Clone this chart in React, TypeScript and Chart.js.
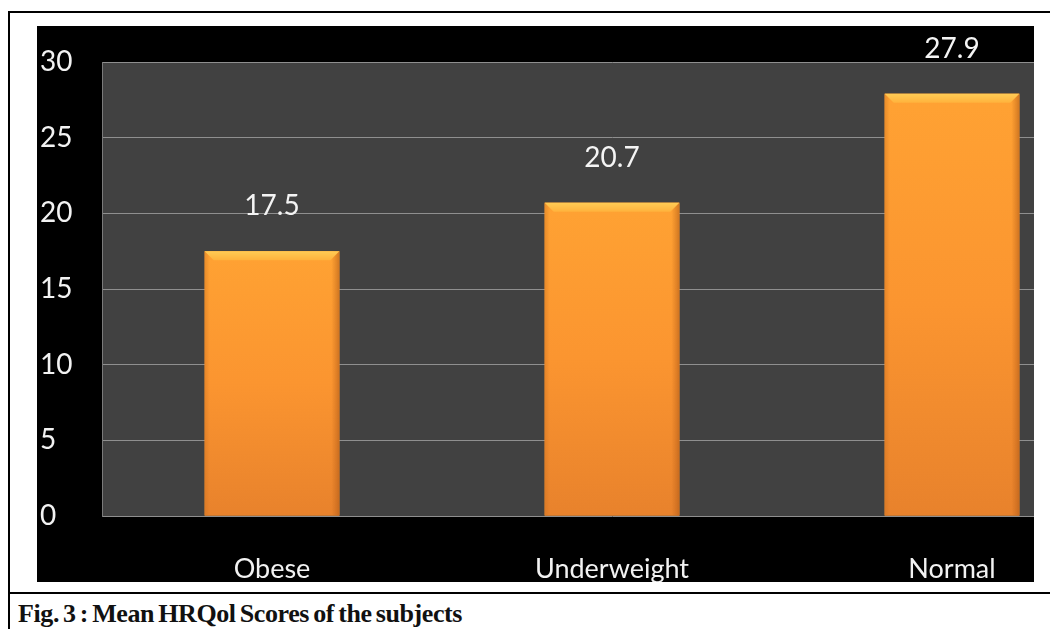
import React, { useEffect, useRef } from "react";
import { Chart, registerables } from "chart.js";

Chart.register(...registerables);

const categories = ["Obese", "Underweight", "Normal"];
const scores = [17.5, 20.7, 27.9];
const scoreLabels = ["17.5", "20.7", "27.9"];
const yTicks = [0, 5, 10, 15, 20, 25, 30];
const caption = "Fig. 3 : Mean HRQol Scores of the subjects";

const FONT = "Lato, 'Open Sans', sans-serif";

const plotBg = {
  id: "plotBg",
  beforeDraw(chart: any) {
    const { ctx, chartArea } = chart;
    ctx.save();
    ctx.fillStyle = "#000";
    ctx.fillRect(0, 0, chart.width, chart.height);
    ctx.fillStyle = "#414141";
    ctx.fillRect(chartArea.left, chartArea.top, chartArea.right - chartArea.left, chartArea.bottom - chartArea.top);
    ctx.restore();
  },
};

const bevel = {
  id: "bevel",
  afterDatasetsDraw(chart: any) {
    const { ctx } = chart;
    const meta = chart.getDatasetMeta(0);
    ctx.save();
    meta.data.forEach((bar: any, i: number) => {
      const w = bar.width;
      const l = bar.x - w / 2;
      const r = bar.x + w / 2;
      const t = bar.y;
      const b = bar.base;
      const g = ctx.createLinearGradient(0, t, 0, b);
      g.addColorStop(0, "#ffa233");
      g.addColorStop(0.5, "#fb9530");
      g.addColorStop(1, "#e8822c");
      ctx.fillStyle = g;
      ctx.fillRect(l, t, w, b - t);
      const gr = ctx.createLinearGradient(r - 8, 0, r, 0);
      gr.addColorStop(0, "rgba(180,90,20,0)");
      gr.addColorStop(1, "rgba(170,85,20,0.55)");
      ctx.fillStyle = gr;
      ctx.fillRect(r - 8, t, 8, b - t);
      const gl = ctx.createLinearGradient(l, 0, l + 5, 0);
      gl.addColorStop(0, "rgba(200,110,30,0.4)");
      gl.addColorStop(1, "rgba(200,110,30,0)");
      ctx.fillStyle = gl;
      ctx.fillRect(l, t, 5, b - t);
      const bh = 9;
      const gt = ctx.createLinearGradient(0, t, 0, t + bh);
      gt.addColorStop(0, "#ffcc55");
      gt.addColorStop(1, "#ffb23c");
      ctx.fillStyle = gt;
      ctx.beginPath();
      ctx.moveTo(l, t);
      ctx.lineTo(r, t);
      ctx.lineTo(r - bh, t + bh);
      ctx.lineTo(l + bh, t + bh);
      ctx.closePath();
      ctx.fill();
      ctx.fillStyle = "#f4f4f4";
      ctx.font = `28px ${FONT}`;
      ctx.textAlign = "center";
      ctx.textBaseline = "middle";
      ctx.fillText(scoreLabels[i], bar.x, t - 45);
    });
    ctx.restore();
  },
};

function BarChart() {
  const ref = useRef<HTMLCanvasElement>(null);
  useEffect(() => {
    const chart = new Chart(ref.current as HTMLCanvasElement, {
      type: "bar",
      data: {
        labels: categories,
        datasets: [
          {
            data: scores,
            backgroundColor: "#fb9530",
            borderWidth: 0,
            categoryPercentage: 1,
            barPercentage: 0.396,
          },
        ],
      },
      options: {
        responsive: false,
        animation: false,
        layout: { padding: { left: 3, top: 36, right: 0, bottom: 0 } },
        plugins: { legend: { display: false }, tooltip: { enabled: false } },
        scales: {
          x: {
            grid: { display: false, drawTicks: false },
            border: { display: false },
            ticks: { color: "#f2f2f2", font: { family: FONT, size: 27 }, padding: 37 },
            afterFit(axis: any) {
              axis.height = 66;
            },
          },
          y: {
            min: 0,
            max: 30,
            afterBuildTicks(axis: any) {
              axis.ticks = yTicks.map((v) => ({ value: v }));
            },
            grid: { color: "#8f8f8f", lineWidth: 1, drawTicks: false },
            border: { display: true, color: "#7a7a7a", width: 1 },
            ticks: {
              color: "#f2f2f2",
              font: { family: FONT, size: 28 },
              crossAlign: "far",
              padding: 0,
            },
            afterFit(axis: any) {
              axis.width = 62;
            },
          },
        },
      },
      plugins: [plotBg, bevel],
    });
    return () => chart.destroy();
  }, []);
  return <canvas ref={ref} width={1085} height={556} style={{ display: "block" }} />;
}

export default function App() {
  return (
    <div style={{ position: "relative", width: 1050, height: 621, background: "#fff" }}>
      <div style={{ position: "absolute", left: 0, top: 3, width: 1050, height: 2, background: "#000" }} />
      <div style={{ position: "absolute", left: 0, top: 3, width: 2, height: 618, background: "#000" }} />
      <div style={{ position: "absolute", left: 0, top: 584, width: 1050, height: 2, background: "#000" }} />
      <div
        style={{
          position: "absolute",
          left: 29,
          top: 18,
          width: 997,
          height: 556,
          overflow: "hidden",
          background: "#000",
        }}
      >
        <BarChart />
      </div>
      <div
        style={{
          position: "absolute",
          left: 10,
          top: 593,
          fontFamily: "'Liberation Serif', 'Times New Roman', serif",
          fontWeight: "bold",
          fontSize: 26,
          lineHeight: 1,
          color: "#111",
          whiteSpace: "nowrap",
          letterSpacing: -0.4,
          wordSpacing: -2,
        }}
      >
        {caption}
      </div>
    </div>
  );
}
